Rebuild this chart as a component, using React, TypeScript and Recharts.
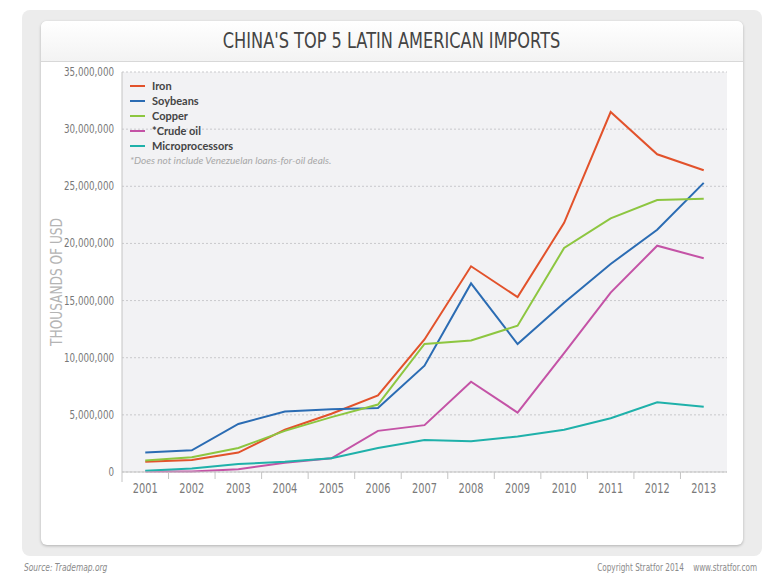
import React from "react";
import {
  LineChart,
  Line,
  XAxis,
  YAxis,
  CartesianGrid,
} from "recharts";

const YEARS = ["2001", "2002", "2003", "2004", "2005", "2006", "2007", "2008", "2009", "2010", "2011", "2012", "2013"];

// thousands of USD
const IRON = [900000, 1050000, 1700000, 3700000, 5100000, 6700000, 11600000, 18000000, 15300000, 21800000, 31500000, 27800000, 26400000];
const SOYBEANS = [1700000, 1900000, 4200000, 5300000, 5500000, 5600000, 9300000, 16500000, 11200000, 14800000, 18200000, 21200000, 25300000];
const COPPER = [1000000, 1300000, 2100000, 3600000, 4800000, 5900000, 11200000, 11500000, 12800000, 19600000, 22200000, 23800000, 23900000];
const CRUDE_OIL = [50000, 50000, 250000, 800000, 1200000, 3600000, 4100000, 7900000, 5200000, 10400000, 15700000, 19800000, 18700000];
const MICROPROCESSORS = [100000, 300000, 700000, 900000, 1200000, 2100000, 2800000, 2700000, 3100000, 3700000, 4700000, 6100000, 5700000];

const Y_TICKS = [0, 5000000, 10000000, 15000000, 20000000, 25000000, 30000000, 35000000];

const SERIES = [
  { key: "iron", name: "Iron", color: "#e2522b", values: IRON },
  { key: "soybeans", name: "Soybeans", color: "#2b6cb3", values: SOYBEANS },
  { key: "copper", name: "Copper", color: "#8dc640", values: COPPER },
  { key: "crude", name: "*Crude oil", color: "#c453a6", values: CRUDE_OIL },
  { key: "micro", name: "Microprocessors", color: "#1fb1aa", values: MICROPROCESSORS },
];

const data = YEARS.map((year, i) => {
  const row: Record<string, string | number> = { year };
  SERIES.forEach((s) => {
    row[s.key] = s.values[i];
  });
  return row;
});

const NARROW = "'DejaVu Sans', sans-serif";
const SANS = "Lato, 'Open Sans', sans-serif";

const WIDTH = 784;
const HEIGHT = 577;
const PLOT_LEFT = 122;
const PLOT_RIGHT = 727;
const PLOT_TOP = 72;
const PLOT_BOTTOM = 472;
const BAND = (PLOT_RIGHT - PLOT_LEFT) / YEARS.length;

// year labels with divider ticks on the band boundaries
function YearTick(props: any) {
  const { x, y, payload, index } = props;
  const axisY = y - 8;
  const left = x - BAND / 2;
  return (
    <g>
      <line
        x1={left}
        x2={left}
        y1={axisY}
        y2={axisY + (index === 0 ? 10 : 7)}
        stroke="#c4c4c4"
        strokeWidth={1}
      />
      <text
        transform={`translate(${x},${axisY + 21}) scale(0.7,1)`}
        textAnchor="middle"
        fill="#7a7a7a"
        fontSize={14}
        fontFamily={NARROW}
      >
        {payload.value}
      </text>
    </g>
  );
}

function ValueTick(props: any) {
  const { x, y, payload } = props;
  return (
    <text
      transform={`translate(${x + 4},${y + 4}) scale(0.7,1)`}
      textAnchor="end"
      fill="#777"
      fontSize={12.5}
      fontFamily={NARROW}
    >
      {payload.value.toLocaleString("en-US")}
    </text>
  );
}

function LegendBox() {
  return (
    <div
      style={{
        position: "absolute",
        left: 130,
        top: 78,
        fontFamily: SANS,
        fontSize: 11,
        color: "#444",
      }}
    >
      {SERIES.map((s) => (
        <div key={s.key} style={{ display: "flex", alignItems: "center", height: 15 }}>
          <span
            style={{
              display: "inline-block",
              width: 15,
              height: 2,
              background: s.color,
              marginRight: 7,
            }}
          />
          <span style={{ fontWeight: 700 }}>{s.name}</span>
        </div>
      ))}
      <div style={{ fontStyle: "italic", color: "#a8a8a8", fontSize: 10, marginTop: 1 }}>
        *Does not include Venezuelan loans-for-oil deals.
      </div>
    </div>
  );
}

export default function App() {
  return (
    <div
      style={{
        position: "absolute",
        left: 0,
        top: 0,
        width: WIDTH,
        height: HEIGHT,
        background: "#fff",
        overflow: "hidden",
      }}
    >
      {/* outer grey frame */}
      <div
        style={{
          position: "absolute",
          left: 22,
          top: 10,
          width: 740,
          height: 546,
          background: "#ececec",
          borderRadius: 8,
        }}
      />
      {/* white card */}
      <div
        style={{
          position: "absolute",
          left: 41,
          top: 21,
          width: 702,
          height: 524,
          background: "#fff",
          borderRadius: 6,
          boxShadow: "0 1px 3px rgba(0,0,0,0.25)",
          overflow: "hidden",
        }}
      >
        <div
          style={{
            height: 40,
            background: "linear-gradient(#ffffff, #f3f3f3)",
            borderBottom: "1px solid #d8d8d8",
            textAlign: "center",
            fontFamily: NARROW,
            fontSize: 22,
            lineHeight: "40px",
            color: "#444",
          }}
        >
          <span style={{ display: "inline-block", transform: "scaleX(0.735)" }}>
            CHINA'S TOP 5 LATIN AMERICAN IMPORTS
          </span>
        </div>
      </div>

      <div style={{ position: "absolute", left: 0, top: 0 }}>
        <LineChart
          width={WIDTH}
          height={HEIGHT}
          data={data}
          margin={{
            top: PLOT_TOP,
            right: WIDTH - PLOT_RIGHT,
            bottom: HEIGHT - PLOT_BOTTOM - 30,
            left: PLOT_LEFT - 80,
          }}
        >
          <CartesianGrid
            vertical={false}
            fill="#f2f2f4"
            stroke="#c9c9cc"
            strokeDasharray="2 2"
          />
          <XAxis
            dataKey="year"
            scale="band"
            height={30}
            axisLine={{ stroke: "#c4c4c4" }}
            tickLine={false}
            tick={<YearTick />}
            interval={0}
          />
          <YAxis
            width={80}
            domain={[0, 35000000]}
            ticks={Y_TICKS}
            interval={0}
            axisLine={{ stroke: "#c4c4c4" }}
            tickLine={false}
            tickMargin={6}
            tick={<ValueTick />}
          />
          {SERIES.map((s) => (
            <Line
              key={s.key}
              dataKey={s.key}
              name={s.name}
              stroke={s.color}
              strokeWidth={2}
              dot={false}
              type="linear"
              isAnimationActive={false}
            />
          ))}
        </LineChart>
      </div>

      {/* vertical axis title */}
      <div
        style={{
          position: "absolute",
          left: 57,
          top: 282,
          transform: "translate(-50%, -50%) rotate(-90deg) scaleX(0.76)",
          fontFamily: NARROW,
          fontSize: 16,
          color: "#b4b4b4",
          whiteSpace: "nowrap",
          lineHeight: "16px",
        }}
      >
        THOUSANDS OF USD
      </div>

      <LegendBox />

      <div
        style={{
          position: "absolute",
          left: 24,
          top: 562,
          fontFamily: NARROW,
          fontStyle: "italic",
          fontSize: 10,
          color: "#8a8a8a",
          transform: "scaleX(0.75)",
          transformOrigin: "left center",
        }}
      >
        Source: Trademap.org
      </div>
      <div
        style={{
          position: "absolute",
          right: 27,
          top: 562,
          fontFamily: NARROW,
          fontSize: 10,
          color: "#8a8a8a",
          whiteSpace: "pre",
          transform: "scaleX(0.73)",
          transformOrigin: "right center",
        }}
      >
        {"Copyright Stratfor 2014    www.stratfor.com"}
      </div>
    </div>
  );
}
